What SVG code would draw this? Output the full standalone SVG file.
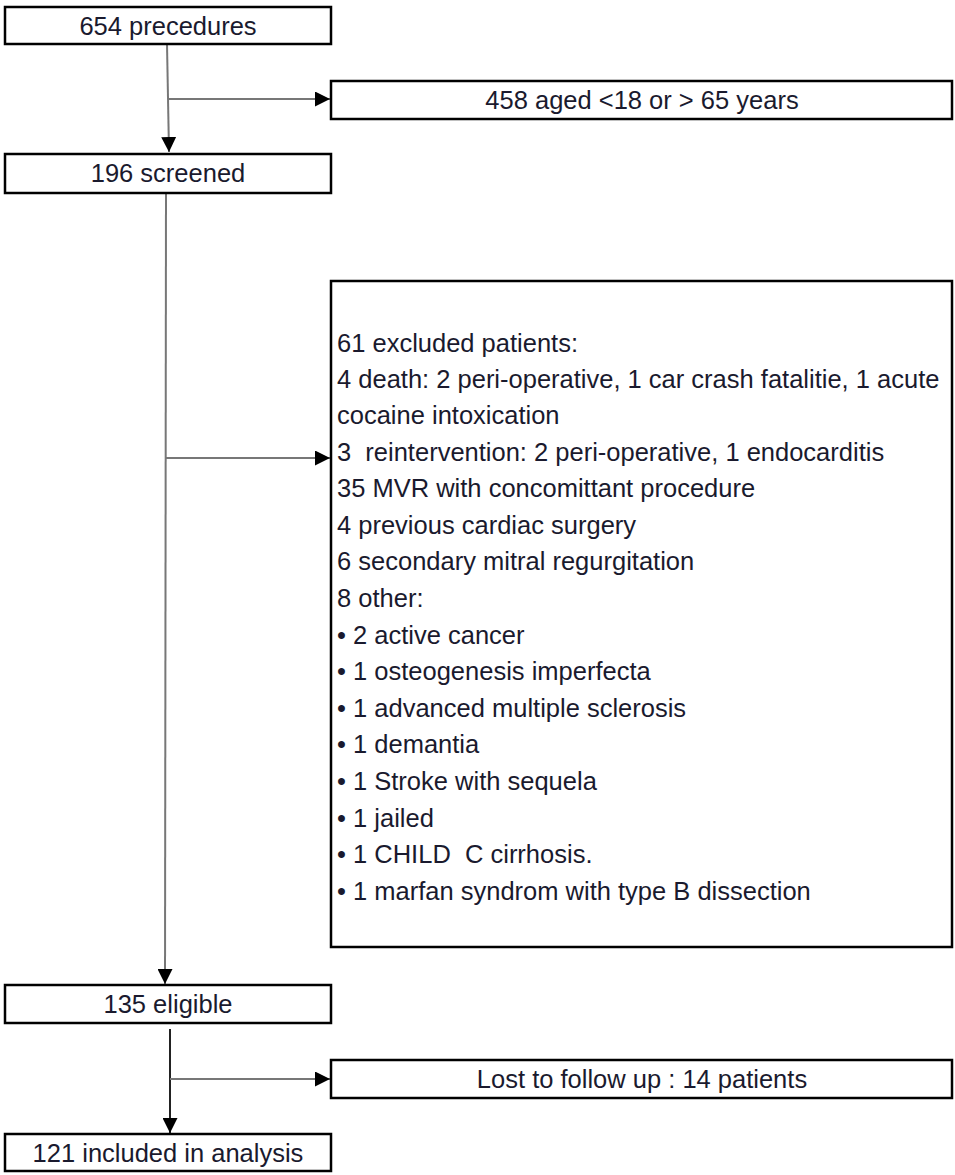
<svg xmlns="http://www.w3.org/2000/svg" width="955" height="1175" viewBox="0 0 955 1175">
<style>
.box{fill:#fff;stroke:#000;stroke-width:2.5}
.t{font-family:"Liberation Sans",Arial,sans-serif;font-size:25.5px;fill:#1a1a2e;white-space:pre}
.c{text-anchor:middle}
.ln{stroke:#777;stroke-width:2;fill:none}
</style>
<defs>
<marker id="a" viewBox="0 0 14 14" refX="14" refY="7" markerWidth="15" markerHeight="15" markerUnits="userSpaceOnUse" orient="auto">
<path d="M0,0 L14,7 L0,14 z" fill="#000"/>
</marker>
</defs>
<g id="connectors">
<path class="ln" d="M167,44 L169,152" marker-end="url(#a)"/>
<path class="ln" d="M169,99 L330,99" marker-end="url(#a)"/>
<path class="ln" d="M166,193 L165,984" marker-end="url(#a)"/>
<path class="ln" d="M166,458 L330,458" marker-end="url(#a)"/>
<path class="ln" d="M170,1029 L170,1133" marker-end="url(#a)" style="stroke:#222"/>
<path class="ln" d="M170,1079 L330,1079" marker-end="url(#a)"/>
</g>
<g id="n1"><rect class="box" x="5" y="7" width="326" height="37"/><text class="t c" x="168" y="35">654 precedures</text></g>
<g id="n2"><rect class="box" x="331" y="81" width="621" height="38"/><text class="t c" x="642" y="109">458 aged &lt;18 or &gt; 65 years</text></g>
<g id="n3"><rect class="box" x="5" y="154" width="326" height="39"/><text class="t c" x="168" y="182">196 screened</text></g>
<g id="n4"><rect class="box" x="331" y="281" width="621" height="666"/>
<text class="t" x="337" xml:space="preserve"><tspan x="337" y="352">61 excluded patients:</tspan><tspan x="337" y="388">4 death: 2 peri-operative, 1 car crash fatalitie, 1 acute</tspan><tspan x="337" y="424">cocaine intoxication</tspan><tspan x="337" y="461">3  reintervention: 2 peri-operative, 1 endocarditis</tspan><tspan x="337" y="497">35 MVR with concomittant procedure</tspan><tspan x="337" y="534">4 previous cardiac surgery</tspan><tspan x="337" y="570">6 secondary mitral regurgitation</tspan><tspan x="337" y="607">8 other:</tspan><tspan x="337" y="644">• 2 active cancer</tspan><tspan x="337" y="680">• 1 osteogenesis imperfecta</tspan><tspan x="337" y="717">• 1 advanced multiple sclerosis</tspan><tspan x="337" y="753">• 1 demantia</tspan><tspan x="337" y="790">• 1 Stroke with sequela</tspan><tspan x="337" y="827">• 1 jailed</tspan><tspan x="337" y="863">• 1 CHILD  C cirrhosis.</tspan><tspan x="337" y="900">• 1 marfan syndrom with type B dissection</tspan></text></g>
<g id="n5"><rect class="box" x="5" y="985" width="326" height="38"/><text class="t c" x="168" y="1013">135 eligible</text></g>
<g id="n6"><rect class="box" x="331" y="1060" width="621" height="38"/><text class="t c" x="642" y="1088">Lost to follow up : 14 patients</text></g>
<g id="n7"><rect class="box" x="5" y="1134" width="326" height="37"/><text class="t c" x="168" y="1162">121 included in analysis</text></g>
</svg>
